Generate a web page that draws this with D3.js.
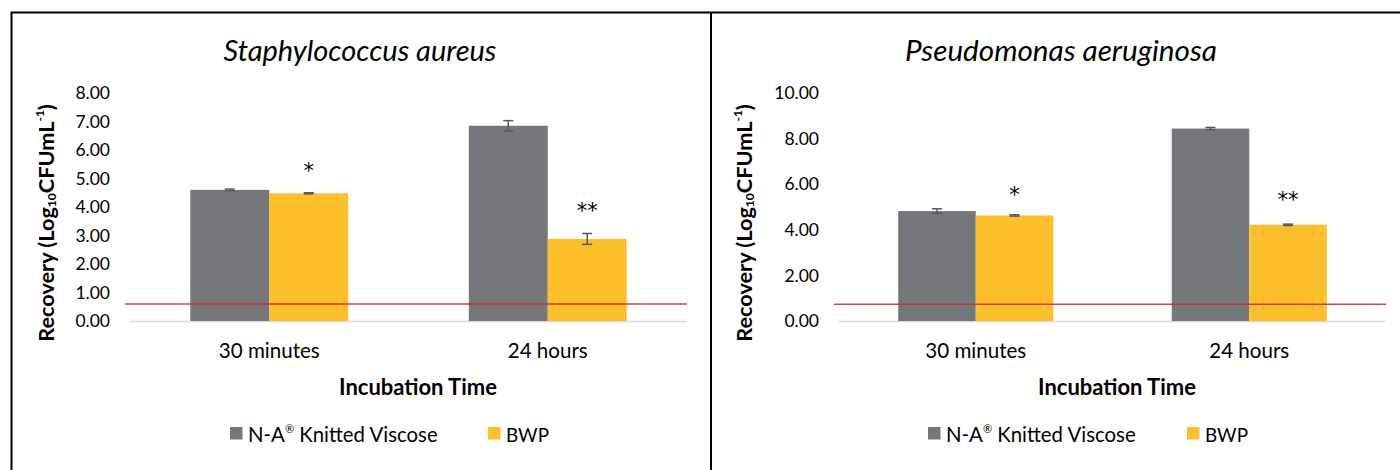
<!DOCTYPE html>
<html><head><meta charset="utf-8">
<script src="https://cdn.jsdelivr.net/npm/d3@7/dist/d3.min.js"></script>
<style>body{margin:0;background:#fff}svg{display:block}text{font-family:Lato,"Open Sans",sans-serif;fill:#000}</style>
</head><body>
<svg id="c" width="1400" height="470"></svg>
<script>
// ---- data ----
const categories = ["30 minutes", "24 hours"];
const seriesNames = ["N-A\u00AE Knitted Viscose", "BWP"];
const saNA = [4.60, 6.85];
const saBWP = [4.48, 2.88];
const saNAErr = [0.03, 0.18];
const saBWPErr = [0.02, 0.19];
const paNA = [4.82, 8.44];
const paBWP = [4.63, 4.22];
const paNAErr = [0.10, 0.05];
const paBWPErr = [0.03, 0.03];
const saTicks = [0, 1, 2, 3, 4, 5, 6, 7, 8];
const paTicks = [0, 2, 4, 6, 8, 10];
const saLimit = 0.60;
const paLimit = 0.73;
const sigMarks = ["*", "**"];
const titles = ["Staphylococcus aureus", "Pseudomonas aeruginosa"];

const colors = ["#75787b", "#fdbf2a"];
const svg = d3.select("#c");

function fit(sel, target) {
  const w = sel.node().getComputedTextLength();
  const fs = parseFloat(sel.attr("font-size"));
  sel.attr("font-size", fs * target / w);
}

function panel(cfg) {
  const g = svg.append("g");
  const y = d3.scaleLinear().domain([0, cfg.ticks[cfg.ticks.length - 1]]).range([321, 93]);
  const x0 = d3.scaleBand().domain(categories).range([cfg.x0, cfg.x1]).paddingInner(0.433).paddingOuter(0.2165);
  const x1 = d3.scaleBand().domain(seriesNames).range([0, x0.bandwidth()]);

  // y axis
  const ya = g.append("g").attr("transform", `translate(${cfg.x0},0)`)
    .call(d3.axisLeft(y).tickValues(cfg.ticks).tickFormat(d3.format(".2f")).tickSize(0).tickPadding(20));
  ya.select(".domain").remove();
  ya.selectAll("text").attr("font-size", 17.5).attr("fill", "#000");

  // baseline
  g.append("line").attr("x1", cfg.x0).attr("x2", cfg.x1).attr("y1", y(0) + 0.5).attr("y2", y(0) + 0.5)
    .attr("stroke", "#d9d9d9").attr("stroke-width", 1.5);

  const series = [cfg.na, cfg.bwp];
  const errs = [cfg.naErr, cfg.bwpErr];
  seriesNames.forEach((s, si) => {
    const gs = g.append("g");
    gs.selectAll("rect").data(categories).join("rect")
      .attr("x", c => x0(c) + x1(s))
      .attr("width", x1.bandwidth())
      .attr("y", (c, i) => y(series[si][i]))
      .attr("height", (c, i) => y(0) - y(series[si][i]))
      .attr("fill", colors[si]);
    // error bars
    categories.forEach((c, i) => {
      const cx = x0(c) + x1(s) + x1.bandwidth() / 2;
      const v = series[si][i], e = errs[si][i];
      const eg = g.append("g").attr("stroke", "#595959").attr("stroke-width", 1.5);
      eg.append("line").attr("x1", cx).attr("x2", cx).attr("y1", y(v + e)).attr("y2", y(v - e));
      [v + e, v - e].forEach(t => eg.append("line").attr("x1", cx - 5).attr("x2", cx + 5).attr("y1", y(t)).attr("y2", y(t)));
    });
  });

  // significance marks over BWP
  categories.forEach((c, i) => {
    const cx = x0(c) + x1("BWP") + x1.bandwidth() / 2;
    const top = y(cfg.bwp[i] + cfg.bwpErr[i]);
    g.append("text").attr("x", cx).attr("y", top - cfg.sigOff[i]).attr("text-anchor", "middle")
      .style("font-family", "'DejaVu Sans'").attr("font-size", 21).text(sigMarks[i]);
  });

  // detection limit line
  g.append("line").attr("x1", cfg.x0 - 5).attr("x2", cfg.x1).attr("y1", y(cfg.limit)).attr("y2", y(cfg.limit))
    .attr("stroke", "#c9302c").attr("stroke-width", 1.5).attr("stroke-opacity", 0.9);

  // category labels
  categories.forEach((c, i) => {
    const t = g.append("text").attr("x", x0(c) + x0.bandwidth() / 2).attr("y", 350)
      .attr("text-anchor", "middle").attr("dominant-baseline", "central").attr("font-size", 18).text(c);
    fit(t, cfg.catW[i]);
  });

  // title
  const tt = g.append("text").attr("x", cfg.titleX).attr("y", 49).attr("text-anchor", "middle")
    .attr("dominant-baseline", "central").attr("font-style", "italic").attr("font-size", 24).text(cfg.title);
  fit(tt, cfg.titleW);

  // x axis title
  const xt = g.append("text").attr("x", cfg.xtX).attr("y", 386).attr("text-anchor", "middle")
    .attr("dominant-baseline", "central").attr("font-weight", "bold").attr("font-size", 18).text("Incubation Time");
  fit(xt, 158);

  // y axis title
  const yt = g.append("text").attr("transform", `translate(${cfg.ytX},223) rotate(-90)`)
    .attr("text-anchor", "middle").attr("dominant-baseline", "central").attr("font-weight", "bold").attr("font-size", 18);
  yt.append("tspan").text("Recovery (Log");
  yt.append("tspan").attr("font-size", 12).attr("dy", 5).text("10");
  yt.append("tspan").attr("dy", -5).text("CFUmL");
  yt.append("tspan").attr("font-size", 12).attr("dy", -7).text("-1");
  yt.append("tspan").attr("dy", 7).text(")");
  fit(yt, 243);

  // legend
  seriesNames.forEach((s, si) => {
    const lx = cfg.legX[si];
    g.append("rect").attr("x", lx).attr("y", 427).attr("width", 12.5).attr("height", 12.5).attr("fill", colors[si]);
    const lt = g.append("text").attr("x", lx + 18).attr("y", 433.5).attr("dominant-baseline", "central")
      .attr("font-size", 18);
    const parts = s.split("\u00AE");
    lt.append("tspan").text(parts[0]);
    if (parts.length > 1) {
      lt.append("tspan").attr("font-size", 11).attr("dy", -6).text("\u00AE");
      lt.append("tspan").attr("dy", 6).text(parts[1]);
    }
    fit(lt, cfg.legW[si]);
  });
}

panel({x0: 130, x1: 687, ticks: saTicks, na: saNA, bwp: saBWP, naErr: saNAErr, bwpErr: saBWPErr,
  limit: saLimit, title: titles[0], titleX: 360, titleW: 273, xtX: 418, ytX: 46,
  catW: [101, 80], legX: [230, 488], legW: [191, 43], sigOff: [15, 15.5]});
panel({x0: 839, x1: 1386, ticks: paTicks, na: paNA, bwp: paBWP, naErr: paNAErr, bwpErr: paBWPErr,
  limit: paLimit, title: titles[1], titleX: 1061, titleW: 312, xtX: 1117, ytX: 744,
  catW: [101, 80], legX: [928, 1187], legW: [191, 43], sigOff: [13, 17]});

// frame
svg.append("path").attr("d", "M11.5,470 V12.5 H1400 M711,12.5 V470").attr("fill", "none")
  .attr("stroke", "#000").attr("stroke-width", 2);
</script>
</body></html>
